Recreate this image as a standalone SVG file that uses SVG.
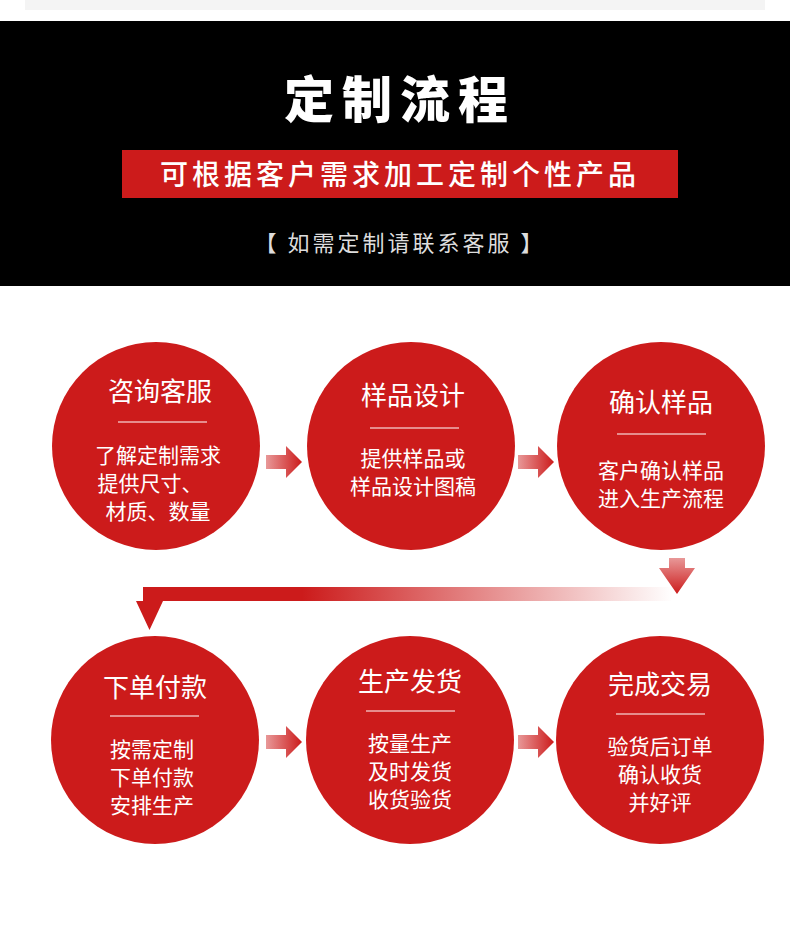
<svg xmlns="http://www.w3.org/2000/svg" width="790" height="939" viewBox="0 0 790 939">
<defs>
<style>
.t{font-family:"Noto Sans CJK SC",sans-serif;fill:#fff;text-anchor:middle}
.h{font-size:26px}
.b{font-size:21px}
.c{fill:#cc1b1b}
.l{stroke:#fff;stroke-width:1.2}
</style>
<linearGradient id="ga" x1="0" x2="1" y1="0" y2="0"><stop offset="0" stop-color="#cc1b1b" stop-opacity="0.45"/><stop offset="1" stop-color="#cc1b1b"/></linearGradient>
<linearGradient id="gv" x1="0" x2="0" y1="0" y2="1"><stop offset="0" stop-color="#cc1b1b" stop-opacity="0.45"/><stop offset="1" stop-color="#cc1b1b"/></linearGradient>
<linearGradient id="gh" x1="0" x2="1" y1="0" y2="0"><stop offset="0" stop-color="#cc1b1b"/><stop offset="0.3" stop-color="#cc1b1b"/><stop offset="1" stop-color="#cc1b1b" stop-opacity="0"/></linearGradient>
<g id="ar"><path d="M0,-7 H20 V-16 L36,0 L20,16 V7 H0 Z" fill="url(#ga)"/></g>
</defs>
<rect width="790" height="939" fill="#fff"/>
<rect x="25" y="0" width="740" height="10" fill="#f4f4f4"/>
<g id="header">
<rect x="0" y="21" width="790" height="265" fill="#000"/>
<text x="400" y="118" class="t" style="font-size:50px;font-weight:900;letter-spacing:8px">定制流程</text>
<rect x="122" y="150" width="556" height="48" fill="#cc1b1b"/>
<text x="400" y="185" class="t" style="font-size:28px;font-weight:500;letter-spacing:4px">可根据客户需求加工定制个性产品</text>
<text x="400" y="251" class="t" style="font-size:22px;fill:#ddd;letter-spacing:3px">【 如需定制请联系客服 】</text>
</g>
<g id="connectors">
<use href="#ar" x="266" y="462"/>
<use href="#ar" x="518" y="462"/>
<use href="#ar" x="266" y="742"/>
<use href="#ar" x="518" y="742"/>
<path d="M669,558 H685 V568 H695 L677,594 L659,568 H669 Z" fill="url(#gv)"/>
<rect x="143" y="587" width="530" height="14" fill="url(#gh)"/>
<path d="M143,587 H156 V601 H163 L149.5,630 L136,601 H143 Z" fill="#cc1b1b"/>
</g>
<g id="n1"><circle cx="156" cy="446" r="104" class="c"/><text x="160" y="401" class="t h">咨询客服</text><line x1="118" y1="422" x2="207" y2="422" class="l"/><text x="158" y="463" class="t b">了解定制需求</text><text x="150" y="491" class="t b">提供尺寸、</text><text x="158" y="519" class="t b">材质、数量</text></g>
<g id="n2"><circle cx="411" cy="446" r="104" class="c"/><text x="413" y="405" class="t h">样品设计</text><line x1="370" y1="428" x2="459" y2="428" class="l"/><text x="413" y="466" class="t b">提供样品或</text><text x="413" y="494" class="t b">样品设计图稿</text></g>
<g id="n3"><circle cx="661" cy="446" r="104" class="c"/><text x="661" y="412" class="t h">确认样品</text><line x1="617" y1="434" x2="706" y2="434" class="l"/><text x="661" y="478" class="t b">客户确认样品</text><text x="661" y="506" class="t b">进入生产流程</text></g>
<g id="n4"><circle cx="155" cy="740" r="104" class="c"/><text x="155" y="697" class="t h">下单付款</text><line x1="110" y1="716" x2="199" y2="716" class="l"/><text x="152" y="757" class="t b">按需定制</text><text x="152" y="785" class="t b">下单付款</text><text x="152" y="813" class="t b">安排生产</text></g>
<g id="n5"><circle cx="410" cy="740" r="104" class="c"/><text x="410" y="691" class="t h">生产发货</text><line x1="366" y1="711" x2="455" y2="711" class="l"/><text x="410" y="751" class="t b">按量生产</text><text x="410" y="779" class="t b">及时发货</text><text x="410" y="807" class="t b">收货验货</text></g>
<g id="n6"><circle cx="660" cy="740" r="104" class="c"/><text x="660" y="694" class="t h">完成交易</text><line x1="616" y1="714" x2="705" y2="714" class="l"/><text x="660" y="754" class="t b">验货后订单</text><text x="660" y="782" class="t b">确认收货</text><text x="660" y="810" class="t b">并好评</text></g>
</svg>
